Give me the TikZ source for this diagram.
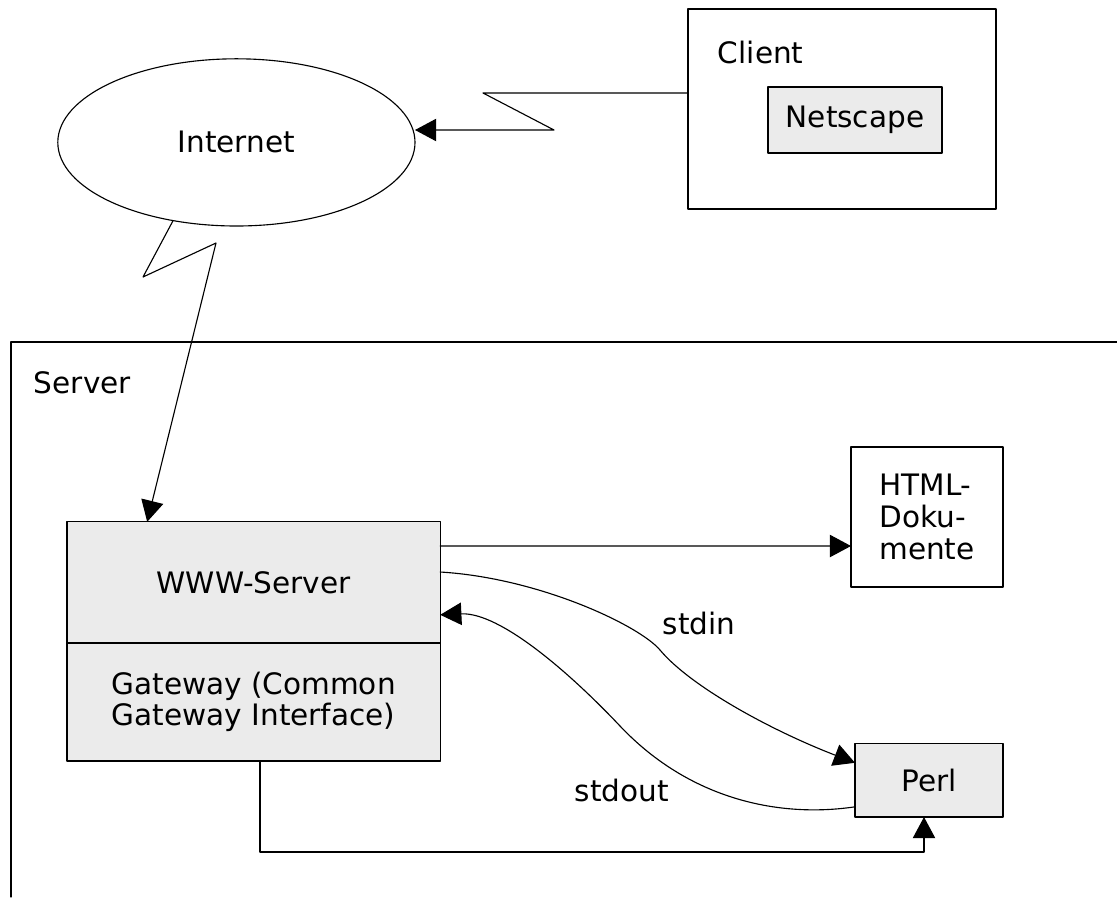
\documentclass[tikz,border=0pt]{standalone}
\usepackage{fontspec}
\setmainfont{DejaVu Sans}
\usetikzlibrary{arrows.meta,shapes.geometric}
\definecolor{boxgray}{RGB}{235,235,235}
\begin{document}
\begin{tikzpicture}[line cap=round, line join=round, line width=0.8pt,
    font=\fontsize{21}{22.5}\selectfont,
    unit/.style={draw, inner sep=0pt, outer sep=0pt},
    soft/.style={unit, fill=boxgray},
    link/.style={-{Triangle[length=0.53cm,width=0.56cm]}},
    lab/.style={inner sep=1pt}]
  \useasboundingbox (0,0) rectangle (27.925,-22.425);
  % client side
  \node[unit, ellipse, minimum width=8.93cm, minimum height=4.18cm] (internet) at (5.91,-3.56) {Internet};
  \node[unit, minimum width=7.7cm, minimum height=5cm] (client) at (21.05,-2.725) {};
  \node[lab, anchor=west] (clientlab) at (17.9,-1.3) {Client};
  \node[soft, minimum width=4.35cm, minimum height=1.65cm] (netscape) at (21.375,-3.0) {Netscape};
  \coordinate (zc) at (13.85,-3.25);
  \coordinate (zi) at (5.4,-6.075);
  \draw[link] ([yshift=0.4cm]client.west) -- ++(-5.125,0) -- (zc) -- (zc -| internet.east);
  % server side
  \draw (27.925,-8.55) -- (0.275,-8.55) -- (0.275,-22.425);
  \node[lab, anchor=west] (serverlab) at (0.8,-9.575) {Server};
  \node[soft, minimum width=9.33cm, minimum height=3.03cm] (www) at (6.34,-14.56) {WWW-Server};
  \node[soft, minimum width=9.33cm, minimum height=2.95cm, align=center] (gateway) at (6.34,-17.55) {Gateway (Common\\Gateway Interface)};
  \node[unit, minimum width=3.8cm, minimum height=3.5cm, align=left] (html) at (23.175,-12.925) {HTML-\\Doku-\\mente};
  \node[soft, minimum width=3.7cm, minimum height=1.83cm] (perl) at (23.225,-19.51) {Perl};
  \draw[link] (internet.231) -- (3.575,-6.925) -- (zi) -- ([xshift=-2.66cm]www.north);
  \draw[link] ([yshift=0.91cm]www.east) -- ([yshift=-0.725cm]html.west);
  \draw[link] ([yshift=0.26cm]www.east) .. controls (13.5,-14.45) and (16.0,-15.65) .. (16.5,-16.25)
    .. controls (17.25,-17.15) and (19.25,-18.25) .. ([yshift=0.44cm]perl.west);
  \draw[link] ([yshift=-0.66cm]perl.west) .. controls (19.5,-20.45) and (17.25,-20.0) .. (15.5,-18.15)
    .. controls (14.25,-16.825) and (12.5,-15.3) .. ([yshift=-0.81cm]www.east);
  \draw[link] ([xshift=0.16cm]gateway.south) -- ++(0,-2.275) -| ([xshift=-0.125cm]perl.south);
  \node[lab] (stdinlab) at (17.475,-15.575) {stdin};
  \node[lab] (stdoutlab) at (15.55,-19.75) {stdout};
\end{tikzpicture}
\end{document}
